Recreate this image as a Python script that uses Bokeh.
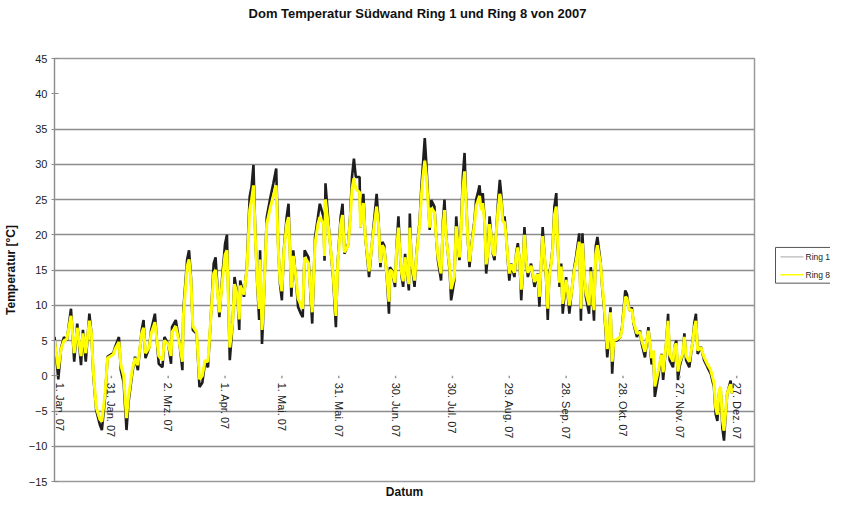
import math
from bokeh.plotting import figure
from bokeh.layouts import row, column
from bokeh.models import FixedTicker, Title, Range1d
from bokeh.core.properties import value
from bokeh.embed import file_html
from bokeh.resources import INLINE

# ---- data ----
days = [
    0, 1, 2, 3.5, 5, 6.5, 8.7, 10.4, 12, 14,
    15, 16.5, 18.4, 19.5, 20.5, 22, 24, 25, 26.7, 28,
    31, 32, 34, 35, 36.5, 38, 39, 41, 42.5, 44,
    46, 47, 48, 50, 51, 53, 54, 55, 57, 58,
    60, 61.5, 62, 64, 66, 67.5, 68, 70, 71, 72,
    73, 75, 76.5, 78, 79.5, 81, 82.5, 84, 85, 87,
    88.5, 90, 91, 92.5, 94, 95, 96.5, 97.5, 98, 100,
    101.5, 103, 104, 105, 106, 107, 108, 108.5, 109.5, 110,
    112, 114, 115.5, 117, 118, 119, 120, 121, 122.5, 123.5,
    125, 126, 127.5, 128.5, 130, 131, 132, 134, 136, 137.5,
    139, 140, 142, 142.5, 143, 145, 147, 148.5, 149.5, 151,
    152, 153, 155, 156, 157, 158, 159, 161, 161.5, 163,
    164, 166, 168, 170, 171, 172, 173, 174, 175.5, 176.5,
    177, 178, 179.7, 180.5, 181.5, 182.4, 183.2, 184, 185, 187,
    187.5, 188.4, 190, 191, 192.7, 193.6, 194.5, 195.4, 196.2, 197,
    198, 198.8, 200.5, 201.4, 202.3, 204, 205, 205.8, 206.7, 208.5,
    209.3, 211, 212, 212.8, 213.7, 214.6, 215.5, 216.4, 217.2, 218.1,
    219, 219.9, 221.6, 222.5, 223.4, 224.3, 225.2, 226, 227, 227.8,
    228.7, 229.6, 230.4, 231.3, 232.2, 234, 235, 235.7, 236.6, 237.5,
    238.4, 239.2, 240, 241, 242.7, 243.6, 244.5, 245.4, 246.3, 247.1,
    248, 248.9, 249.8, 251.5, 253.3, 255, 255.9, 256.8, 257.6, 258.5,
    259.4, 260.3, 261.1, 262, 262.9, 263.8, 264.8, 265.6, 266.5, 267.4,
    268.2, 270, 271.7, 272.6, 274.3, 275.2, 276.9, 277.8, 278.6, 279.5,
    280.4, 282.1, 283, 284.7, 285.6, 286.5, 288.2, 289, 290, 290.8,
    291.7, 292.5, 293.4, 294.3, 295.2, 296.9, 298.6, 299.5, 301.2, 302.1,
    303, 303.8, 304.7, 305.6, 307.3, 309, 309.9, 311.6, 313.4, 315.1,
    316, 316.8, 318.6, 320.3, 321.2, 322.9, 323.8, 324.6, 326.4, 327.2,
    328.1, 329, 329.8, 331.6, 332.4, 333.3, 335, 336.8, 337.6, 338.5,
    339.4, 341.1, 342.8, 344.6, 346.3, 348, 348.9, 349.8, 350.7, 351.5,
    352.4, 353.3, 354.2, 355, 355.9, 356.8, 357.6,
]

ring1 = [
    5.5, 2.5, -0.5, 4, 5.5, 5, 9.5, 2, 7.4, 1.5,
    6.5, 2, 8.8, 6, 0, -4.9, -7, -7.7, -3, 2.7,
    3.2, 4.1, 5.5, 0.8, -1, -7.7, -3.9, 0.3, 2.7, 0.8,
    6.5, 7.9, 2.5, 4, 6.5, 8.8, 5, 1.7, 1.2, 5.5,
    4.5, 1.7, 6.9, 7.9, 4.5, 0.8, 9.3, 16.5, 17.8, 14,
    6.5, 6, -1.6, -1, 2, 1.2, 8.3, 15.9, 16.8, 8.3,
    14, 18.7, 20, 2.2, 7.4, 14, 11.5, 6.5, 13.5, 11.2,
    15.5, 25.4, 26.8, 29.9, 19.7, 13, 7.9, 17.8, 4.5, 7.4,
    22.5, 25.4, 27.3, 29.4, 18.7, 13, 10.7, 17.8, 22.5, 24.4,
    11.2, 17.8, 13.5, 9.8, 8.8, 8.3, 17.8, 16.8, 7.4, 19.7,
    22.5, 24.4, 22.5, 16.3, 27.3, 20.2, 14, 6.9, 16.3, 22.5,
    24.4, 17.3, 18.7, 22.5, 28.2, 30.8, 28.2, 28.2, 21, 25.8,
    19.7, 14, 20.2, 25.8, 22, 15.4, 19, 18.5, 13.5, 8.8,
    15.4, 15, 12.6, 18.3, 22.6, 17.3, 14, 12.6, 17.3, 12.1,
    23, 16, 12.6, 17.3, 22, 26.8, 30.2, 33.7, 30.2, 25.9,
    20.7, 24.9, 24, 19.7, 16.4, 13.5, 22, 25, 19.7, 15,
    10.7, 13.5, 22.6, 19.3, 16.4, 21.6, 28.3, 31.6, 25, 19.3,
    15.4, 18.3, 22, 25, 25.9, 27, 23.9, 25.9, 22, 14.5,
    17.3, 22.6, 20.2, 17.3, 16.4, 24.5, 27.8, 25.9, 22, 22.6,
    19.7, 16.4, 13.5, 15.9, 14, 17.3, 18.8, 16.4, 10.7, 15,
    21.1, 16.4, 14, 15.9, 12.6, 14.5, 9.8, 15.9, 21.1, 17.3,
    14, 7.9, 14.5, 15.9, 18.3, 24, 25.9, 18.3, 12.6, 15.9,
    8.8, 14, 8.8, 11.2, 15.4, 16.8, 20.2, 7.8, 20.2, 14.5,
    11.2, 8.8, 15.4, 7.8, 18.3, 19.7, 16, 12.6, 9.7, 6.4,
    2.6, 5, 9.7, 0.3, 5, 5, 5.5, 6.9, 12.1, 11.6,
    9.7, 9.2, 9.7, 7.4, 5.5, 6.4, 4.5, 2.6, 6.9, 1.6,
    3.5, -3, -0.1, 3.1, -0.6, 5, 8.8, 2.2, 1.2, 4.1,
    5, -0.6, 1.2, 3.1, 6, 2.2, 1.2, 5, 7.4, 8.8,
    3.1, 4.1, 2.2, 1.2, 0.3, -1.6, -5.4, -6.4, -2.5, -1.6,
    -7.3, -9.2, -5.4, -2.5, -1.6, -0.7, -2.5,
]

ring8 = [
    5.0, 3.0, 1.0, 3.8, 5.0, 5.2, 8.5, 3.2, 6.8, 2.8,
    6.0, 3.2, 7.8, 6, 0.5, -4.5, -6.2, -6.5, -2.5, 2.5,
    3.0, 3.8, 4.8, 1.5, 0, -6, -3.2, 0.8, 2.5, 1.5,
    6, 6.8, 3.2, 4, 6, 7.6, 5.2, 2.8, 2.2, 5,
    4.5, 2.8, 6.2, 7, 4.5, 2, 8.5, 15.5, 16.5, 13.5,
    7, 6.2, -0.5, 0, 2.2, 2, 8.2, 14.5, 15, 9,
    13.2, 17.2, 17.8, 4, 7.5, 13, 11.5, 8, 12.8, 11.5,
    15, 23.5, 25, 27, 19.5, 13.5, 9.5, 16.5, 6.5, 8.5,
    21.5, 24, 25.5, 27, 18.5, 13.5, 12, 17.5, 21.5, 22.5,
    12.5, 17, 13.8, 11, 10, 9.5, 16.8, 16, 9, 18.8,
    21.5, 22.5, 21.5, 17, 25, 20, 14.5, 8.5, 16, 21.5,
    22.8, 17.5, 18.5, 22, 26.5, 28, 26.5, 26, 21, 24.5,
    19.8, 14.8, 19.8, 24, 21.5, 16, 18.5, 18, 14, 10.5,
    15, 14.8, 13.2, 17.8, 21, 17.2, 14.5, 13.4, 16.8, 13,
    21, 16.2, 13.5, 17, 21.5, 25.5, 28.5, 30.5, 28.5, 25,
    21, 23.8, 23.2, 19.8, 17, 14.5, 21, 23.5, 19.5, 15.5,
    12.3, 14, 21.2, 19, 16.8, 21, 26.5, 29, 24.5, 19.5,
    16.2, 18, 21.5, 24, 24.8, 25.5, 23.5, 24.5, 21.8, 15.8,
    17.2, 21.5, 20, 17.5, 17, 23.5, 25.8, 24.8, 21.8, 21.8,
    19.5, 16.8, 14.5, 15.8, 14.6, 17, 18.2, 16.5, 12.2, 15,
    20, 16.5, 14.6, 15.6, 13.3, 14.4, 11.2, 15.6, 19.8, 17.2,
    14.4, 9.5, 14.2, 15.6, 18, 22.8, 24, 18.5, 13.2, 15.5,
    10.2, 13.6, 10, 11.4, 15, 16.2, 19, 9.5, 18.8, 14.5,
    11.8, 10, 14.8, 9.3, 17.2, 18.5, 15.8, 13, 10.2, 7.2,
    3.8, 5.4, 9, 2, 5, 5.2, 5.5, 6.6, 11.2, 11,
    9.6, 9.2, 9.4, 7.6, 6, 6.2, 5, 3.4, 6.4, 2.5,
    3.6, -1.5, 0.6, 3.0, 0.5, 4.8, 7.8, 3, 2, 4,
    4.6, 0.6, 1.8, 3.2, 5.5, 2.8, 2, 4.8, 6.8, 7.8,
    3.6, 4, 2.6, 1.6, 0.8, -1, -4.5, -5.5, -2.2, -1.6,
    -6.2, -7.8, -5, -2.5, -1.8, -1.2, -2.5,
]

tick_days = [0, 30, 60, 90, 120, 150, 180, 210, 240, 270, 300, 330, 360]
tick_labels = ["1. Jan. 07", "31. Jan. 07", "2. Mrz. 07", "1. Apr. 07", "1. Mai. 07",
               "31. Mai. 07", "30. Jun. 07", "30. Jul. 07", "29. Aug. 07", "28. Sep. 07",
               "28. Okt. 07", "27. Nov. 07", "27. Dez. 07"]
y_ticks = [-15, -10, -5, 0, 5, 10, 15, 20, 25, 30, 35, 40, 45]
grid_values = [-10, -5, 5, 10, 15, 20, 25, 30, 35]
series_names = ["Ring 1", "Ring 8"]
series_colors = ["#1e1e1e", "#ffff00"]
legend_colors = ["#b8b8b8", "#ffff00"]

title_text = "Dom Temperatur Südwand Ring 1 und Ring 8 von 2007"
x_title = "Datum"
y_title = "Temperatur [°C]"

FONT = "Liberation Sans"
TOTAL_W = 830
HEAD_H = 50
BODY_H = 450
W1 = 774
W2 = TOTAL_W - W1

# ---- header strip with the chart title ----
head = figure(width=TOTAL_W, height=HEAD_H, x_range=Range1d(0, TOTAL_W), y_range=Range1d(HEAD_H, 0),
              output_backend="svg", toolbar_location=None,
              min_border=0, min_border_left=0, min_border_right=0,
              min_border_top=0, min_border_bottom=0)
head.axis.visible = False
head.grid.visible = False
head.outline_line_color = None
head.text(x=[417], y=[13], text=[title_text], text_align="center", text_baseline="middle",
          text_font=value(FONT), text_font_size="13px", text_font_style="bold",
          text_color="#111111")

# ---- main chart ----
p = figure(width=W1, height=BODY_H, x_range=(0, 369.4), y_range=(-15, 45),
           output_backend="svg", toolbar_location=None,
           min_border_left=46, min_border_right=20, min_border_top=8, min_border_bottom=19)
p.background_fill_color = "white"
p.border_fill_color = "white"
p.outline_line_color = "#9a9a9a"
p.outline_line_width = 1.5

p.xaxis.visible = False
p.xgrid.visible = False
p.ygrid.ticker = FixedTicker(ticks=grid_values)
p.ygrid.grid_line_color = "#8c8c8c"
p.ygrid.grid_line_width = 1.3

ya = p.yaxis[0]
ya.ticker = FixedTicker(ticks=y_ticks)
ya.axis_line_color = "#8c8c8c"
ya.major_tick_line_color = "#8c8c8c"
ya.major_tick_in = 4
ya.major_tick_out = 3
ya.minor_tick_line_color = None
ya.major_label_text_font = FONT
ya.major_label_text_font_size = "11px"
ya.major_label_text_color = "#222222"
ya.major_label_standoff = 4
ya.axis_label = y_title
ya.axis_label_text_font = FONT
ya.axis_label_text_font_size = "12px"
ya.axis_label_text_font_style = "bold"
ya.axis_label_text_color = "#111111"
ya.axis_label_standoff = 8

# data lines
p.line(days, ring1, line_color=series_colors[0], line_width=2.6)
p.line(days, ring8, line_color=series_colors[1], line_width=3.0)

# x ticks at y = 0 and rotated labels
label_nudge = [5] + [0] * (len(tick_days) - 1)
p.segment(x0=tick_days, y0=[0] * len(tick_days), x1=tick_days, y1=[-0.35] * len(tick_days),
          line_color="#9a9a9a", line_width=1.5)
p.text(x=tick_days, y=[0] * len(tick_days), text=tick_labels, angle=-math.pi / 2,
       text_align="left", text_baseline="middle", y_offset=7, x_offset=label_nudge,
       text_font=value(FONT), text_font_size="11px", text_color="#222222")

bottom_title = Title(text=x_title, align="center", offset=3, standoff=3,
                     vertical_align="bottom",
                     text_font=FONT, text_font_size="12px", text_font_style="bold",
                     text_color="#111111")
p.add_layout(bottom_title, "below")

# ---- legend panel (narrow figure to the right) ----
lg = figure(width=W2, height=BODY_H, x_range=Range1d(0, W2), y_range=Range1d(BODY_H, 0),
            output_backend="svg", toolbar_location=None,
            min_border=0, min_border_left=0, min_border_right=0,
            min_border_top=0, min_border_bottom=0)
lg.axis.visible = False
lg.grid.visible = False
lg.outline_line_color = None
lg.background_fill_color = "white"
lg.border_fill_color = "white"

box_left, box_top, box_bottom = 1, 201, 239
item_y = [211, 230]
lg.quad(left=[box_left], right=[W2 + 10], top=[box_top], bottom=[box_bottom],
        fill_color="white", line_color="#555555", line_width=1)
lg.segment(x0=[6, 6], y0=item_y, x1=[29, 29], y1=item_y,
           line_color=legend_colors, line_width=[1.2, 1.5])
lg.text(x=[31, 31], y=item_y, text=series_names, text_align="left", text_baseline="middle",
        text_font=value(FONT), text_font_size="8.5px", text_color="#222222")

layout = column(head, row(p, lg))
open("out.html", "w").write(file_html(layout, INLINE))
